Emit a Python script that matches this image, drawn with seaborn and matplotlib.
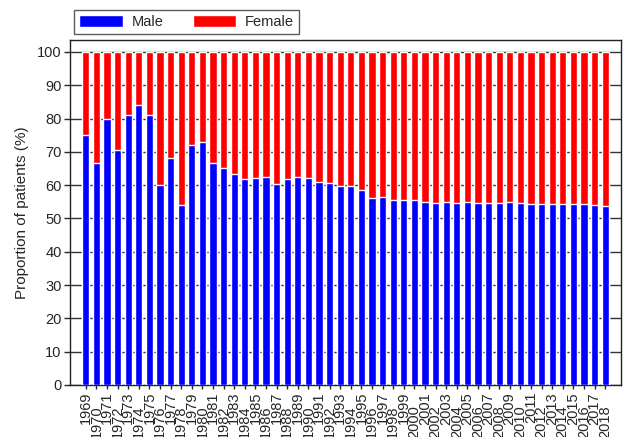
import matplotlib
matplotlib.use("Agg")
import matplotlib.pyplot as plt
import seaborn as sns
import pandas as pd
import numpy as np

years = list(range(1969, 2019))
male = [75.0, 66.7, 79.8, 70.6, 81.1, 84.1, 81.1, 60.0, 68.3, 54.0,
        72.1, 73.1, 66.7, 65.3, 63.3, 61.9, 62.3, 62.4, 60.4, 61.9,
        62.4, 62.2, 61.1, 60.7, 59.9, 59.7, 58.5, 56.3, 56.5, 55.5,
        55.7, 55.7, 55.0, 54.6, 55.0, 54.7, 55.0, 54.7, 54.6, 54.7,
        55.0, 54.7, 54.4, 54.4, 54.4, 54.4, 54.4, 54.4, 54.1, 53.9]
female = [round(100 - m, 1) for m in male]

df = pd.DataFrame({"year": [str(y) for y in years], "male": male, "female": female})
df["total"] = df["male"] + df["female"]

sns.set_style("white")
plt.rcParams["font.family"] = ["Liberation Sans", "DejaVu Sans"]

fig = plt.figure(figsize=(6.27, 4.37), dpi=100)
ax = fig.add_axes([70/627, 1-385/437, 551/627, 345/437])

ax.yaxis.grid(True, color="#333333", linewidth=1.0, linestyle="-", zorder=0)
ax.set_axisbelow(True)

sns.barplot(data=df, x="year", y="total", color="#ff0000", saturation=1,
            width=0.68, ax=ax, label="Female", zorder=2)
sns.barplot(data=df, x="year", y="male", color="#0000ff", saturation=1,
            width=0.68, ax=ax, label="Male", zorder=3)

h, l = ax.get_legend_handles_labels()
if ax.get_legend() is not None:
    ax.get_legend().remove()

ax.set_xlim(-1.5, len(years) - 0.5 + 1.0)
ax.set_ylim(0, 103.6)
ax.set_yticks(range(0, 101, 10))
ax.tick_params(axis="y", direction="out", length=4, width=1, labelsize=10.5, pad=2, left=True)
ax.tick_params(axis="x", direction="out", length=3, width=1, labelsize=10.5, rotation=90, pad=2, bottom=True)
for i, t in enumerate(ax.xaxis.get_major_ticks()):
    if i % 2 == 1:
        t.set_pad(11.5)

for s in ax.spines.values():
    s.set_color("#222222")
    s.set_linewidth(1.0)

ax.set_xlabel("")
ax.set_ylabel("Proportion of patients (%)", fontsize=11, labelpad=6)

order = [l.index("Male"), l.index("Female")]
leg = fig.legend([h[i] for i in order], [l[i] for i in order],
                 loc="upper left", bbox_to_anchor=(74/627, 1-10/437),
                 ncol=2, fontsize=10.5, frameon=True, fancybox=False,
                 handlelength=3.0, handleheight=0.8, columnspacing=2.0,
                 borderpad=0.35, handletextpad=0.6, borderaxespad=0)
leg.get_frame().set_edgecolor("#333333")
leg.get_frame().set_linewidth(1.0)

fig.savefig("out.png", dpi=100)
